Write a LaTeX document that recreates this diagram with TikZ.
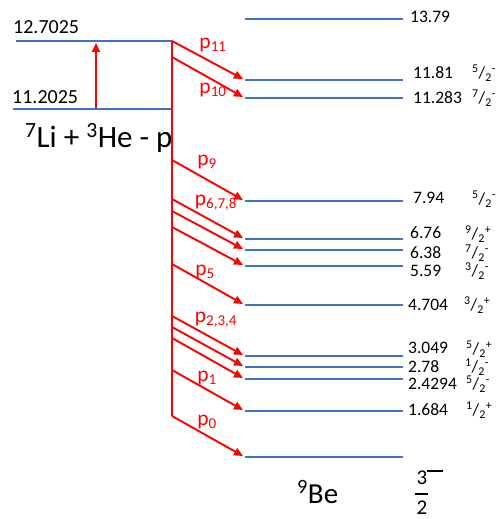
\documentclass[tikz,border=0pt]{standalone}
\usepackage{fontspec}
\setmainfont{Carlito}
\usetikzlibrary{arrows.meta}
\definecolor{lvlblue}{RGB}{68,114,196}
\newcommand{\jpi}[2]{\textsuperscript{#1}/\textsubscript{2}\textsuperscript{#2}}
\tikzset{
  lvl/.style={draw=lvlblue, line width=2.8pt},
  trans/.style={draw=red, line width=1.9pt, -{Triangle[length=9pt,width=8pt]}},
  redline/.style={draw=red, line width=1.9pt},
  elab/.style={anchor=west, inner sep=0pt, font=\fontsize{17.5}{20}\selectfont},
  spinlab/.style={anchor=west, inner sep=0pt, font=\fontsize{17}{20}\selectfont},
  llab/.style={anchor=west, inner sep=0pt, font=\fontsize{20}{24}\selectfont},
  plab/.style={inner sep=0pt, text=red, font=\fontsize{21.5}{24}\selectfont},
}
\begin{document}
\begin{tikzpicture}[x=1pt,y=-1pt]
\useasboundingbox (0,0) rectangle (502,519);

% left levels
\coordinate (Lt0) at (16,41);  \coordinate (Lt1) at (172,41);
\coordinate (Lb0) at (13,109); \coordinate (Lb1) at (172,109);
\draw[lvl] (Lt0) -- (Lt1);
\draw[lvl] (Lb0) -- (Lb1);
\node[llab] (lt) at (13,27) {12.7025};
\node[llab] (lb) at (12,97) {11.2025};
\coordinate (ua0) at (96,108); \coordinate (ua1) at (96,43);
\draw[trans] (ua0) -- (ua1);
\node[anchor=base west, inner sep=0pt, font=\fontsize{31}{36}\selectfont] (entr) at (25,147)
  {\textsuperscript{7}Li + \textsuperscript{3}He - p};

% vertical red line
\coordinate (vend) at (172,416);
\draw[redline] (Lt1) -- (vend);

% right levels
\foreach \n/\y in {a/19, b/80, c/98, d/201, e/239, f/250, g/266, h/305, i/356, j/367, k/379, l/411, m/457}{
  \coordinate (R\n0) at (245,\y); \coordinate (R\n1) at (403,\y);
  \draw[lvl] (R\n0) -- (R\n1);
}

% energy labels
\node[elab] (ea) at (410,17) {13.79};
\node[elab] (eb) at (413,73) {11.81};
\node[elab] (ec) at (413,98) {11.283};
\node[elab] (ed) at (413,198) {7.94};
\node[elab] (ee) at (410,233) {6.76};
\node[elab] (ef) at (410,253) {6.38};
\node[elab] (eg) at (410,271) {5.59};
\node[elab] (eh) at (408,305) {4.704};
\node[elab] (ei) at (408,348) {3.049};
\node[elab] (ej) at (408,367) {2.78};
\node[elab] (ek) at (408,384) {2.4294};
\node[elab] (el) at (408,410) {1.684};

% spin labels
\node[spinlab] (sb) at (472,73) {\jpi{5}{-}};
\node[spinlab] (sc) at (472,98) {\jpi{7}{-}};
\node[spinlab] (sd) at (472,199) {\jpi{5}{-}};
\node[spinlab] (se) at (465,234) {\jpi{9}{+}};
\node[spinlab] (sf) at (465,253) {\jpi{7}{-}};
\node[spinlab] (sg) at (465,271) {\jpi{3}{-}};
\node[spinlab] (sh) at (464,305) {\jpi{3}{+}};
\node[spinlab] (si) at (466,349) {\jpi{5}{+}};
\node[spinlab] (sj) at (465,367) {\jpi{1}{-}};
\node[spinlab] (sk) at (466,384) {\jpi{5}{-}};
\node[spinlab] (sl) at (466,410) {\jpi{1}{+}};

% transitions
\foreach \n/\ya/\yb in {11/41/79, 10/57/97, 9/160/200, 8/199/238, 7/211/249, 6/227/265,
                         5/264/304, 4/316/355, 3/327/366, 2/338/378, 1/370/410}{
  \coordinate (T\n a) at (172,\ya); \coordinate (T\n b) at (243,\yb);
  \draw[trans] (T\n a) -- (T\n b);
}
\coordinate (T0b) at (243,456);
\draw[trans] (vend) -- (T0b);

% p labels
\node[plab] (p11) at (213,45) {p\textsubscript{11}};
\node[plab] (p10) at (213,90) {p\textsubscript{10}};
\node[plab] (p9) at (207,162) {p\textsubscript{9}};
\node[plab] (p678) at (216,203) {p\textsubscript{6,7,8}};
\node[plab] (p5) at (205,272) {p\textsubscript{5}};
\node[plab] (p234) at (216,320) {p\textsubscript{2,3,4}};
\node[plab] (p1) at (207,378) {p\textsubscript{1}};
\node[plab] (p0) at (207,422) {p\textsubscript{0}};

% bottom labels
\node[anchor=base west, inner sep=0pt, font=\fontsize{29}{34}\selectfont] (be) at (297,503)
  {\textsuperscript{9}Be};
\node[inner sep=0pt, font=\fontsize{21}{24}\selectfont] (num) at (422,478) {3};
\node[inner sep=0pt, font=\fontsize{21}{24}\selectfont] (den) at (422,508) {2};
\coordinate (fb0) at (415,494); \coordinate (fb1) at (428,494);
\draw[line width=2.6pt] (fb0) -- (fb1);
\coordinate (mn0) at (427,471); \coordinate (mn1) at (443,471);
\draw[line width=1.6pt] (mn0) -- (mn1);
\end{tikzpicture}
\end{document}
